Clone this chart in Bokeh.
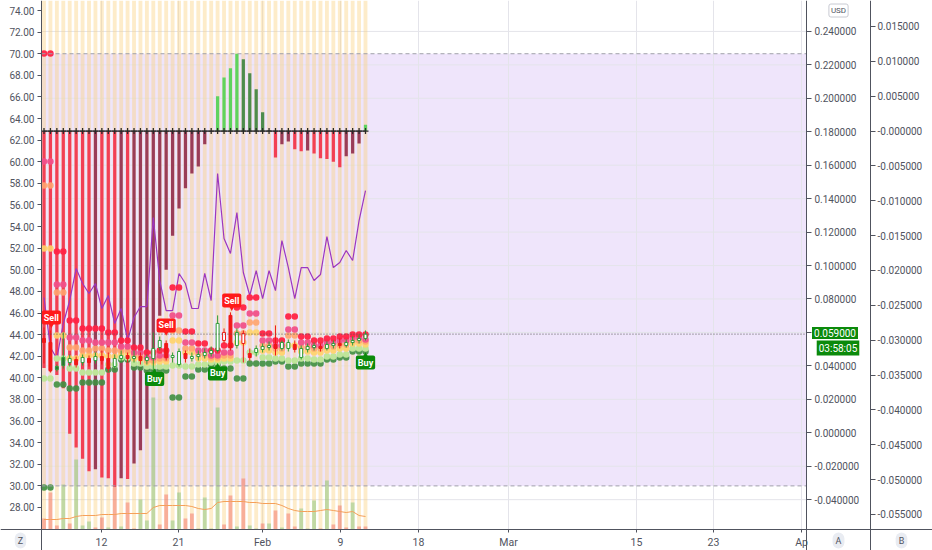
from bokeh.plotting import figure
from bokeh.models import (Range1d, LinearAxis, FixedTicker, BoxAnnotation,
                          Label, ColumnDataSource, CustomJSTickFormatter)
from bokeh.embed import file_html
from bokeh.resources import INLINE

FONT = "Roboto"
AXIS_TXT = "#50535e"
AXIS_LINE = "#50535e"
GRID = "#e4e4ea"

# ---------------- data ----------------
n_bars = 51
bar_idx = list(range(n_bars))

date_tick_pos = [8.94, 20.92, 33.98, 46.11, 58.24, 72.24, 92.15, 104.12, 117.81]
date_tick_labels = ["12", "21", "Feb", "9", "18", "Mar", "15", "23", "Ap"]

rsi_ticks = [28, 30, 32, 34, 36, 38, 40, 42, 44, 46, 48, 50, 52, 54, 56, 58, 60,
             62, 64, 66, 68, 70, 72, 74]
price_ticks = [-0.04, -0.02, 0.0, 0.02, 0.04, 0.06, 0.08, 0.10, 0.12, 0.14, 0.16,
               0.18, 0.20, 0.22, 0.24]
hist_ticks = [-0.055, -0.05, -0.045, -0.04, -0.035, -0.03, -0.025, -0.02, -0.015,
              -0.01, -0.005, 0.0, 0.005, 0.01, 0.015]

rsi_upper = 70
rsi_lower = 30

rsi = [47.44, 42.81, 41.79, 45.03, 47.16, 50.12, 48.73, 47.81, 48.73, 46.42,
       47.62, 45.03, 46.42, 43.46, 45.58, 46.60, 46.60, 54.84, 49.01, 46.23,
       46.23, 49.66, 48.73, 46.42, 46.42, 49.66, 47.16, 58.91, 52.90, 51.51,
       55.30, 49.75, 47.62, 49.93, 47.34, 49.93, 48.08, 52.71, 50.21, 47.34,
       50.21, 50.21, 49.01, 49.56, 53.08, 50.21, 50.68, 51.79, 50.86, 54.56, 57.34]

hist = [-0.0340, -0.0345, -0.0350, -0.0369, -0.0434, -0.0454, -0.0470, -0.0488, -0.0485, -0.0497,
        -0.0498, -0.0511, -0.0498, -0.0499, -0.0477, -0.0458, -0.0427, -0.0346, -0.0265, -0.0199,
        -0.0150, -0.0111, -0.0082, -0.0061, -0.0051, -0.0019, -0.0001, 0.0050, 0.0077, 0.0090,
        0.0111, 0.0103, 0.0083, 0.0060, 0.0027, 0.0001, -0.0038, -0.0019, -0.0015, -0.0026,
        -0.0029, -0.0028, -0.0032, -0.0039, -0.0040, -0.0044, -0.0052, -0.0036, -0.0032, -0.0018,
        0.0009]

opens = [.0564, .0540, .0396, .0450, .0420, .0438, .0420, .0444, .0432, .0456,
         .0444, .0396, .0444, .0462, .0444, .0456, .0432, .0444, .0510, .0534,
         .0450, .0408, .0474, .0444, .0456, .0462, .0474, .0492, .0552, .0702,
         .0522, .0534, .0474, .0480, .0498, .0510, .0528, .0504, .0504, .0528,
         .0450, .0498, .0510, .0516, .0504, .0522, .0534, .0522, .0540, .0552, .0564]
closes = [.0540, .0372, .0378, .0402, .0444, .0408, .0450, .0420, .0456, .0432,
          .0384, .0444, .0462, .0444, .0456, .0432, .0450, .0504, .0552, .0450,
          .0462, .0486, .0444, .0456, .0468, .0480, .0492, .0654, .0600, .0510,
          .0600, .0594, .0450, .0504, .0516, .0522, .0504, .0540, .0540, .0498,
          .0504, .0516, .0522, .0504, .0528, .0534, .0522, .0540, .0552, .0564, .0590]
highs = [.0630, .0612, .0408, .0600, .0468, .0456, .0468, .0462, .0480, .0492,
         .0480, .0468, .0492, .0480, .0492, .0480, .0468, .0600, .0576, .0552,
         .0480, .0504, .0492, .0480, .0492, .0504, .0516, .0702, .0624, .0720,
         .0624, .0612, .0504, .0522, .0534, .0546, .0642, .0552, .0558, .0552,
         .0522, .0534, .0540, .0534, .0546, .0552, .0564, .0558, .0576, .0588, .0612]
lows = [.0414, .0360, .0366, .0384, .0396, .0390, .0402, .0396, .0414, .0408,
        .0366, .0378, .0420, .0420, .0420, .0408, .0408, .0313, .0492, .0432,
        .0420, .0396, .0420, .0426, .0432, .0444, .0456, .0480, .0534, .0492,
        .0504, .0420, .0432, .0456, .0480, .0492, .0462, .0492, .0486, .0480,
        .0438, .0480, .0492, .0486, .0492, .0504, .0504, .0510, .0522, .0534, .0552]

volume = [11, 37, 4, 45, 6, 70, 4, 8, 2, 12, 2, 42, 3, 27, 1, 30, 9, 132, 5, 35,
          9, 37, 11, 16, 1, 32, 1, 122, 5, 34, 3, 51, 4, 1, 6, 6, 19, 2, 16, 3,
          21, 1, 29, 1, 49, 5, 24, 2, 27, 3, 3]
volume_up = [0, 0, 0, 1, 0, 1, 1, 1, 0, 0, 1, 0, 1, 0, 0, 1, 1, 1, 0, 0,
             1, 1, 0, 0, 1, 1, 1, 1, 0, 0, 1, 0, 1, 1, 0, 1, 0, 1, 0, 0,
             1, 1, 1, 0, 1, 0, 0, 0, 1, 0, 0]
volume_ma = [10, 10, 10, 11, 11, 13, 14, 14, 14, 15, 15, 15, 16, 16, 16, 16, 16, 22, 24, 24,
             24, 24, 24, 23, 21, 20, 21, 27, 28, 28, 28, 28, 27, 27, 26, 26, 26, 24, 21, 19,
             18, 18, 18, 19, 20, 19, 18, 17, 18, 14, 13]

# pivot-style dot levels, one value per pair of bars
lvl_r3 = [0.2268, 0.1084, 0.0671, 0.0624, 0.0624, 0.0600, 0.0552, 0.0510, 0.0480, 0.0492, 0.0869, 0.0606, 0.0534,
          0.0492, 0.0522, 0.0749, 0.0809, 0.0594, 0.0552, 0.0695, 0.0576, 0.0552, 0.0564, 0.0576, 0.0588, 0.0588]
lvl_r2 = [0.1622, 0.0887, 0.0570, 0.0552, 0.0540, 0.0540, 0.0516, 0.0480, 0.0450, 0.0462, 0.0701, 0.0540, 0.0492,
          0.0462, 0.0480, 0.0642, 0.0713, 0.0552, 0.0522, 0.0618, 0.0540, 0.0522, 0.0540, 0.0552, 0.0570, 0.0558]
lvl_r1 = [0.1479, 0.0839, 0.0510, 0.0492, 0.0504, 0.0492, 0.0492, 0.0462, 0.0432, 0.0444, 0.0612, 0.0504, 0.0468,
          0.0450, 0.0462, 0.0594, 0.0659, 0.0522, 0.0504, 0.0582, 0.0510, 0.0504, 0.0516, 0.0528, 0.0552, 0.0546]
lvl_pv = [0.1102, 0.0582, 0.0444, 0.0462, 0.0462, 0.0456, 0.0474, 0.0444, 0.0420, 0.0426, 0.0552, 0.0480, 0.0444,
          0.0438, 0.0444, 0.0540, 0.0600, 0.0492, 0.0480, 0.0522, 0.0486, 0.0480, 0.0492, 0.0504, 0.0534, 0.0528]
lvl_s1 = [0.0325, 0.0444, 0.0384, 0.0360, 0.0360, 0.0408, 0.0450, 0.0414, 0.0396, 0.0396, 0.0402, 0.0396, 0.0408,
          0.0420, 0.0426, 0.0432, 0.0480, 0.0450, 0.0444, 0.0432, 0.0444, 0.0438, 0.0456, 0.0468, 0.0504, 0.0504]
lvl_s3 = [-0.0327, 0.0289, 0.0265, 0.0301, 0.0301, 0.0378, 0.0438, 0.0390, 0.0372, 0.0372, 0.0211, 0.0337, 0.0378,
          0.0408, 0.0384, 0.0325, 0.0414, 0.0414, 0.0426, 0.0396, 0.0414, 0.0414, 0.0438, 0.0450, 0.0486, 0.0486]

sell_idx = [1.15, 19.0, 29.2]
sell_price = [0.0689, 0.0642, 0.0791]
buy_idx = [17.2, 27.0, 50.0]
buy_price = [0.0322, 0.0355, 0.0420]

last_price = 0.059
countdown = "03:58:05"

# ---------------- layout: one frame over the whole canvas ----------------
W, H = 932, 550
x_lo, x_hi = -6.765, 138.18            # bar-index units across the canvas
chart_x_lo, chart_x_hi = -0.389, 118.58  # chart pane edges (left axis / price axis)
hist_axis_x = 128.54                    # second price scale position
rsi_lo, rsi_hi = 24.020, 74.926
chart_rsi_lo = 25.964                   # time axis position (pane bottom)
price_lo, price_hi = -0.0704, 0.2585
hist_lo, hist_hi = -0.060164, 0.018729
vol_lo, vol_hi = -21, 529

p = figure(width=W, height=H, x_range=Range1d(x_lo, x_hi), y_range=Range1d(rsi_lo, rsi_hi),
           output_backend="svg", toolbar_location=None,
           min_border_left=0, min_border_right=0, min_border_top=0, min_border_bottom=0,
           background_fill_color="white", border_fill_color="white", outline_line_color=None)
p.extra_y_ranges = {"price": Range1d(price_lo, price_hi),
                    "hist": Range1d(hist_lo, hist_hi),
                    "vol": Range1d(vol_lo, vol_hi)}
p.xgrid.visible = False
p.ygrid.visible = False

lax = p.left[0]
lax.ticker = FixedTicker(ticks=rsi_ticks)
lax.formatter = CustomJSTickFormatter(code="return tick.toFixed(2);")
lax.fixed_location = chart_x_lo

bax = p.below[0]
bax.ticker = FixedTicker(ticks=date_tick_pos)
bax.formatter = CustomJSTickFormatter(args=dict(pos=date_tick_pos, labs=date_tick_labels), code="""
const i = pos.findIndex(v => Math.abs(v - tick) < 1e-6);
return i >= 0 ? labs[i] : "";
""")
bax.fixed_location = chart_rsi_lo

ax1 = LinearAxis(y_range_name="price", ticker=FixedTicker(ticks=price_ticks),
                 formatter=CustomJSTickFormatter(code="return tick.toFixed(6);"),
                 fixed_location=chart_x_hi)
p.add_layout(ax1, "right")
ax2 = LinearAxis(y_range_name="hist", ticker=FixedTicker(ticks=hist_ticks),
                 formatter=CustomJSTickFormatter(
                     code="if (Math.abs(tick) < 1e-9) { return '-0.000000'; } return tick.toFixed(6);"),
                 fixed_location=hist_axis_x)
p.add_layout(ax2, "right")

for ax in (lax, bax, ax1, ax2):
    ax.axis_line_color = AXIS_LINE
    ax.major_tick_line_color = AXIS_LINE
    ax.minor_tick_line_color = None
    ax.major_tick_in = 0
    ax.major_tick_out = 4
    ax.major_label_text_font = FONT
    ax.major_label_text_font_size = "10px"
    ax.major_label_text_color = AXIS_TXT
lax.major_label_standoff = 3
bax.major_tick_out = 3
bax.major_label_standoff = 4
bax.major_label_text_font_size = "10.5px"
ax1.major_tick_out = 5
ax1.major_label_standoff = 3
ax2.major_tick_out = 5
ax2.major_label_standoff = 2

# grid lines restricted to the chart pane
p.segment(x0=date_tick_pos, y0=[chart_rsi_lo] * len(date_tick_pos), x1=date_tick_pos,
          y1=[rsi_hi] * len(date_tick_pos), line_color=GRID, line_width=1)
p.segment(x0=[chart_x_lo] * len(price_ticks), y0=price_ticks, x1=[chart_x_hi] * len(price_ticks),
          y1=price_ticks, y_range_name="price", line_color=GRID, line_width=1)

# RSI band
p.add_layout(BoxAnnotation(left=chart_x_lo, right=chart_x_hi, bottom=rsi_lower, top=rsi_upper,
                           fill_color="#9c5de8", fill_alpha=0.16, line_color=None,
                           level="underlay"))

# vertical stripes per bar
p.vbar(x=bar_idx, top=[rsi_hi] * n_bars, bottom=[chart_rsi_lo] * n_bars, width=0.6,
       fill_color="#f9cf7a", fill_alpha=0.4, line_color=None)

# volume
vol_colors = ["#66bb6a" if u else "#ef5350" for u in volume_up]
p.vbar(x=bar_idx, top=volume, bottom=0, width=0.6, y_range_name="vol",
       fill_color=vol_colors, fill_alpha=0.4, line_color=None)
p.line(bar_idx, volume_ma, y_range_name="vol", line_color="#f5a05a", line_width=1)

# histogram
hist_colors = []
prev = None
for v in hist:
    rising = prev is not None and v > prev
    if v >= 0:
        hist_colors.append("#5fd35f" if (rising or prev is None) else "#4d8c4d")
    else:
        hist_colors.append("#9a3c58" if rising else "#f23f55")
    prev = v
p.vbar(x=bar_idx, top=hist, bottom=0, width=0.5, y_range_name="hist",
       fill_color=hist_colors, line_color=None)
p.line(bar_idx, [0] * n_bars, y_range_name="hist", line_color="#333333", line_width=1)
p.scatter(bar_idx, [0] * n_bars, y_range_name="hist", marker="cross", size=6,
          line_color="#2a2a2a", line_width=1.3)

# RSI line
p.line(bar_idx, rsi, line_color="#9c36c0", line_width=1.2)

# dots
def expand(levels):
    xs, ys = [], []
    for k, lv in enumerate(levels):
        for j in (0, 1):
            i = 2 * k + j
            if i < n_bars:
                xs.append(i)
                ys.append(lv)
    return xs, ys

dot_styles = [(lvl_s3, "#3f8f42", 0.9), (lvl_s1, "#bfe59a", 1.0), (lvl_pv, "#ffd36a", 0.9),
              (lvl_r1, "#ffa46e", 0.9), (lvl_r2, "#f0508a", 0.95), (lvl_r3, "#ff2244", 0.95)]
for lv, col, a in dot_styles:
    xs, ys = expand(lv)
    p.scatter(xs, ys, y_range_name="price", size=6.5, fill_color=col, fill_alpha=a,
              line_color=None)

# candles (hollow style)
body_top, body_bot, fills, lines = [], [], [], []
for i in range(n_bars):
    o, c = opens[i], closes[i]
    pc = closes[i - 1] if i > 0 else o
    col = "#2f9e3a" if c >= pc else "#f01818"
    body_top.append(max(o, c))
    body_bot.append(min(o, c))
    lines.append(col)
    fills.append("white" if c > o else ("#2d6e34" if c >= pc else "#f01818"))
csrc = ColumnDataSource(dict(x=bar_idx, hi=highs, lo=lows, t=body_top, b=body_bot,
                             f=fills, l=lines))
p.segment(x0="x", y0="lo", x1="x", y1="hi", source=csrc, y_range_name="price",
          line_color="l", line_width=1)
p.vbar(x="x", top="t", bottom="b", width=0.45, source=csrc, y_range_name="price",
       fill_color="f", line_color="l", line_width=1)

# RSI bounds and last-price line (limited to the pane)
p.segment(x0=[chart_x_lo] * 2, y0=[rsi_upper, rsi_lower], x1=[chart_x_hi] * 2,
          y1=[rsi_upper, rsi_lower], line_color="#a0a0aa", line_dash="4 3", line_width=1)
p.segment(x0=[chart_x_lo], y0=[last_price], x1=[chart_x_hi], y1=[last_price],
          y_range_name="price", line_color="#555555", line_dash="1 2", line_width=1)

# Buy / Sell labels
pointer_gap = 0.0045
p.scatter(sell_idx, [v - pointer_gap for v in sell_price], y_range_name="price",
          marker="inverted_triangle", size=5, fill_color="#ff1a1a", line_color=None)
p.scatter(buy_idx, [v + pointer_gap for v in buy_price], y_range_name="price",
          marker="triangle", size=5, fill_color="#0b8a0b", line_color=None)
for x, y in zip(sell_idx, sell_price):
    p.add_layout(Label(x=x, y=y, y_range_name="price", text="Sell", text_align="center",
                       text_baseline="middle", text_color="white", text_font=FONT,
                       text_font_size="9px", text_font_style="bold",
                       background_fill_color="#ff1a1a", padding=2, border_radius=2))
for x, y in zip(buy_idx, buy_price):
    p.add_layout(Label(x=x, y=y, y_range_name="price", text="Buy", text_align="center",
                       text_baseline="middle", text_color="white", text_font=FONT,
                       text_font_size="9px", text_font_style="bold",
                       background_fill_color="#0b8a0b", padding=2, border_radius=2))

# price-scale badges and pane buttons (screen units: from the canvas's bottom-left)
def screen_label(txt, px, py, **kw):
    style = dict(text_align="center", text_baseline="middle", text_font=FONT)
    style.update(kw)
    p.add_layout(Label(x=px, y=H - py, x_units="screen", y_units="screen", text=txt, **style))

screen_label(f"{last_price:.6f}", 834.5, 332.5, text_color="white", text_font_size="10px",
             background_fill_color="#0b8a0b", padding=2)
screen_label(countdown, 837.5, 347.5, text_color="white", text_font_size="10px",
             background_fill_color="#0b8a0b", padding=2)
screen_label("USD", 838, 10, text_color=AXIS_TXT, text_font_size="8px",
             background_fill_color="white", border_line_color="#c8cad2", padding=2,
             border_radius=2)
for txt, px in (("Z", 20), ("A", 838), ("B", 901)):
    screen_label(txt, px, 540, text_color=AXIS_TXT, text_font_size="9px",
                 background_fill_color="#e9ecf2", padding=3, border_radius=6)

open("out.html", "w").write(file_html(p, INLINE))
